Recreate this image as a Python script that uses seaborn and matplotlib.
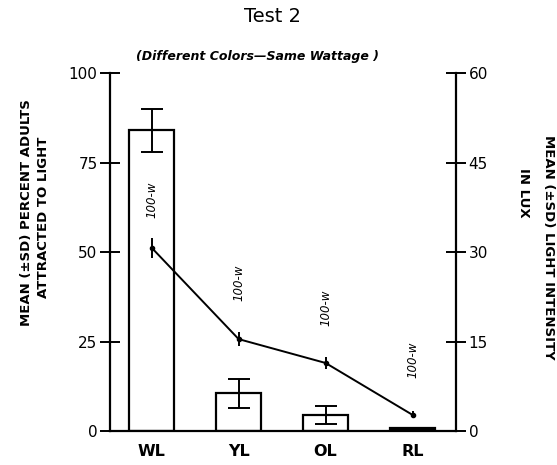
import matplotlib
matplotlib.use("Agg")
import matplotlib.pyplot as plt
import seaborn as sns
import pandas as pd

categories = ["WL", "YL", "OL", "RL"]
pct_adults = [84.0, 10.5, 4.5, 0.8]
pct_sd = [6.0, 4.0, 2.6, 0.0]
lux = [30.7, 15.4, 11.4, 2.7]
lux_sd = [1.7, 1.2, 1.0, 0.6]
wattage_labels = ["100-w", "100-w", "100-w", "100-w"]
label_pos_pct = [64.5, 41.5, 34.5, 20]
left_ticks = [0, 25, 50, 75, 100]
right_ticks = [0, 15, 30, 45, 60]

sns.set_style("white")
plt.rcParams['font.family'] = ['DejaVu Sans']
plt.rcParams['text.color'] = 'black'
plt.rcParams['xtick.color'] = 'black'
plt.rcParams['ytick.color'] = 'black'

df = pd.DataFrame({"cat": categories, "pct": pct_adults})

fig = plt.figure(figsize=(5.57, 4.65), dpi=100)
ax = fig.add_axes([0.1975, 0.0731, 0.6212, 0.7699])
sns.barplot(data=df, x="cat", y="pct", color="white", edgecolor="black",
            linewidth=1.6, width=0.52, ax=ax)
ax.patches[3].set_facecolor("black")
ax.errorbar(range(len(categories)), pct_adults, yerr=pct_sd, fmt="none",
            ecolor="black", elinewidth=1.4, capsize=8, capthick=1.4)
ax.set_xlim(-0.48, 3.5)
ax.set_ylim(0, 100)
ax.set_yticks(left_ticks)
ax.set_yticklabels([str(t) for t in left_ticks], fontsize=11)
ax.tick_params(axis="y", direction="inout", length=14, width=1.4, left=True, pad=2)
ax.tick_params(axis="x", length=0, pad=9)
for lbl in ax.get_xticklabels():
    lbl.set_fontsize(11.5)
    lbl.set_fontweight("bold")
ax.set_xlabel("")
ax.set_ylabel("")
ax.spines["top"].set_visible(False)
ax.spines["right"].set_visible(False)
for side in ["left", "bottom"]:
    ax.spines[side].set_linewidth(1.6)
    ax.spines[side].set_color("black")

ax2 = ax.twinx()
sns.lineplot(x=list(range(len(categories))), y=lux, color="black",
             linewidth=1.4, ax=ax2, sort=False)
ax2.errorbar(range(len(categories)), lux, yerr=lux_sd, fmt="o", ms=3,
             color="black", elinewidth=1.4, capsize=0)
ax2.set_ylim(0, 60)
ax2.set_xlim(-0.48, 3.5)
ax2.set_yticks(right_ticks)
ax2.set_yticklabels([str(t) for t in right_ticks], fontsize=11)
ax2.tick_params(axis="y", direction="inout", length=14, width=1.4, right=True, pad=2)
ax2.set_ylabel("")
for side in ["top", "left", "bottom"]:
    ax2.spines[side].set_visible(False)
ax2.spines["right"].set_linewidth(1.6)
ax2.spines["right"].set_color("black")

for i, (t, yp) in enumerate(zip(wattage_labels, label_pos_pct)):
    ax.text(i, yp, t, rotation=90, ha="center", va="center",
            fontsize=8.5, fontstyle="italic")

# axis titles
fig.text(27 / 557, 1 - 213 / 465, "MEAN (±SD) PERCENT ADULTS", rotation=90,
         ha="center", va="center", fontsize=9.5, fontweight="bold")
fig.text(44 / 557, 1 - 217 / 465, "ATTRACTED TO LIGHT", rotation=90,
         ha="center", va="center", fontsize=9.5, fontweight="bold")
fig.text(549 / 557, 1 - 247 / 465, "MEAN (±SD) LIGHT INTENSITY", rotation=-90,
         ha="center", va="center", fontsize=9.5, fontweight="bold")
fig.text(523 / 557, 1 - 193 / 465, "IN LUX", rotation=-90,
         ha="center", va="center", fontsize=9.5, fontweight="bold")

fig.text(273 / 557, 1 - 16 / 465, "Test 2", ha="center", va="center", fontsize=14)
fig.text(257 / 557, 1 - 56 / 465, "(Different Colors\u2014Same Wattage )", ha="center",
         va="center", fontsize=9, fontstyle="italic", fontweight="bold")

fig.savefig("out.png", dpi=100)
